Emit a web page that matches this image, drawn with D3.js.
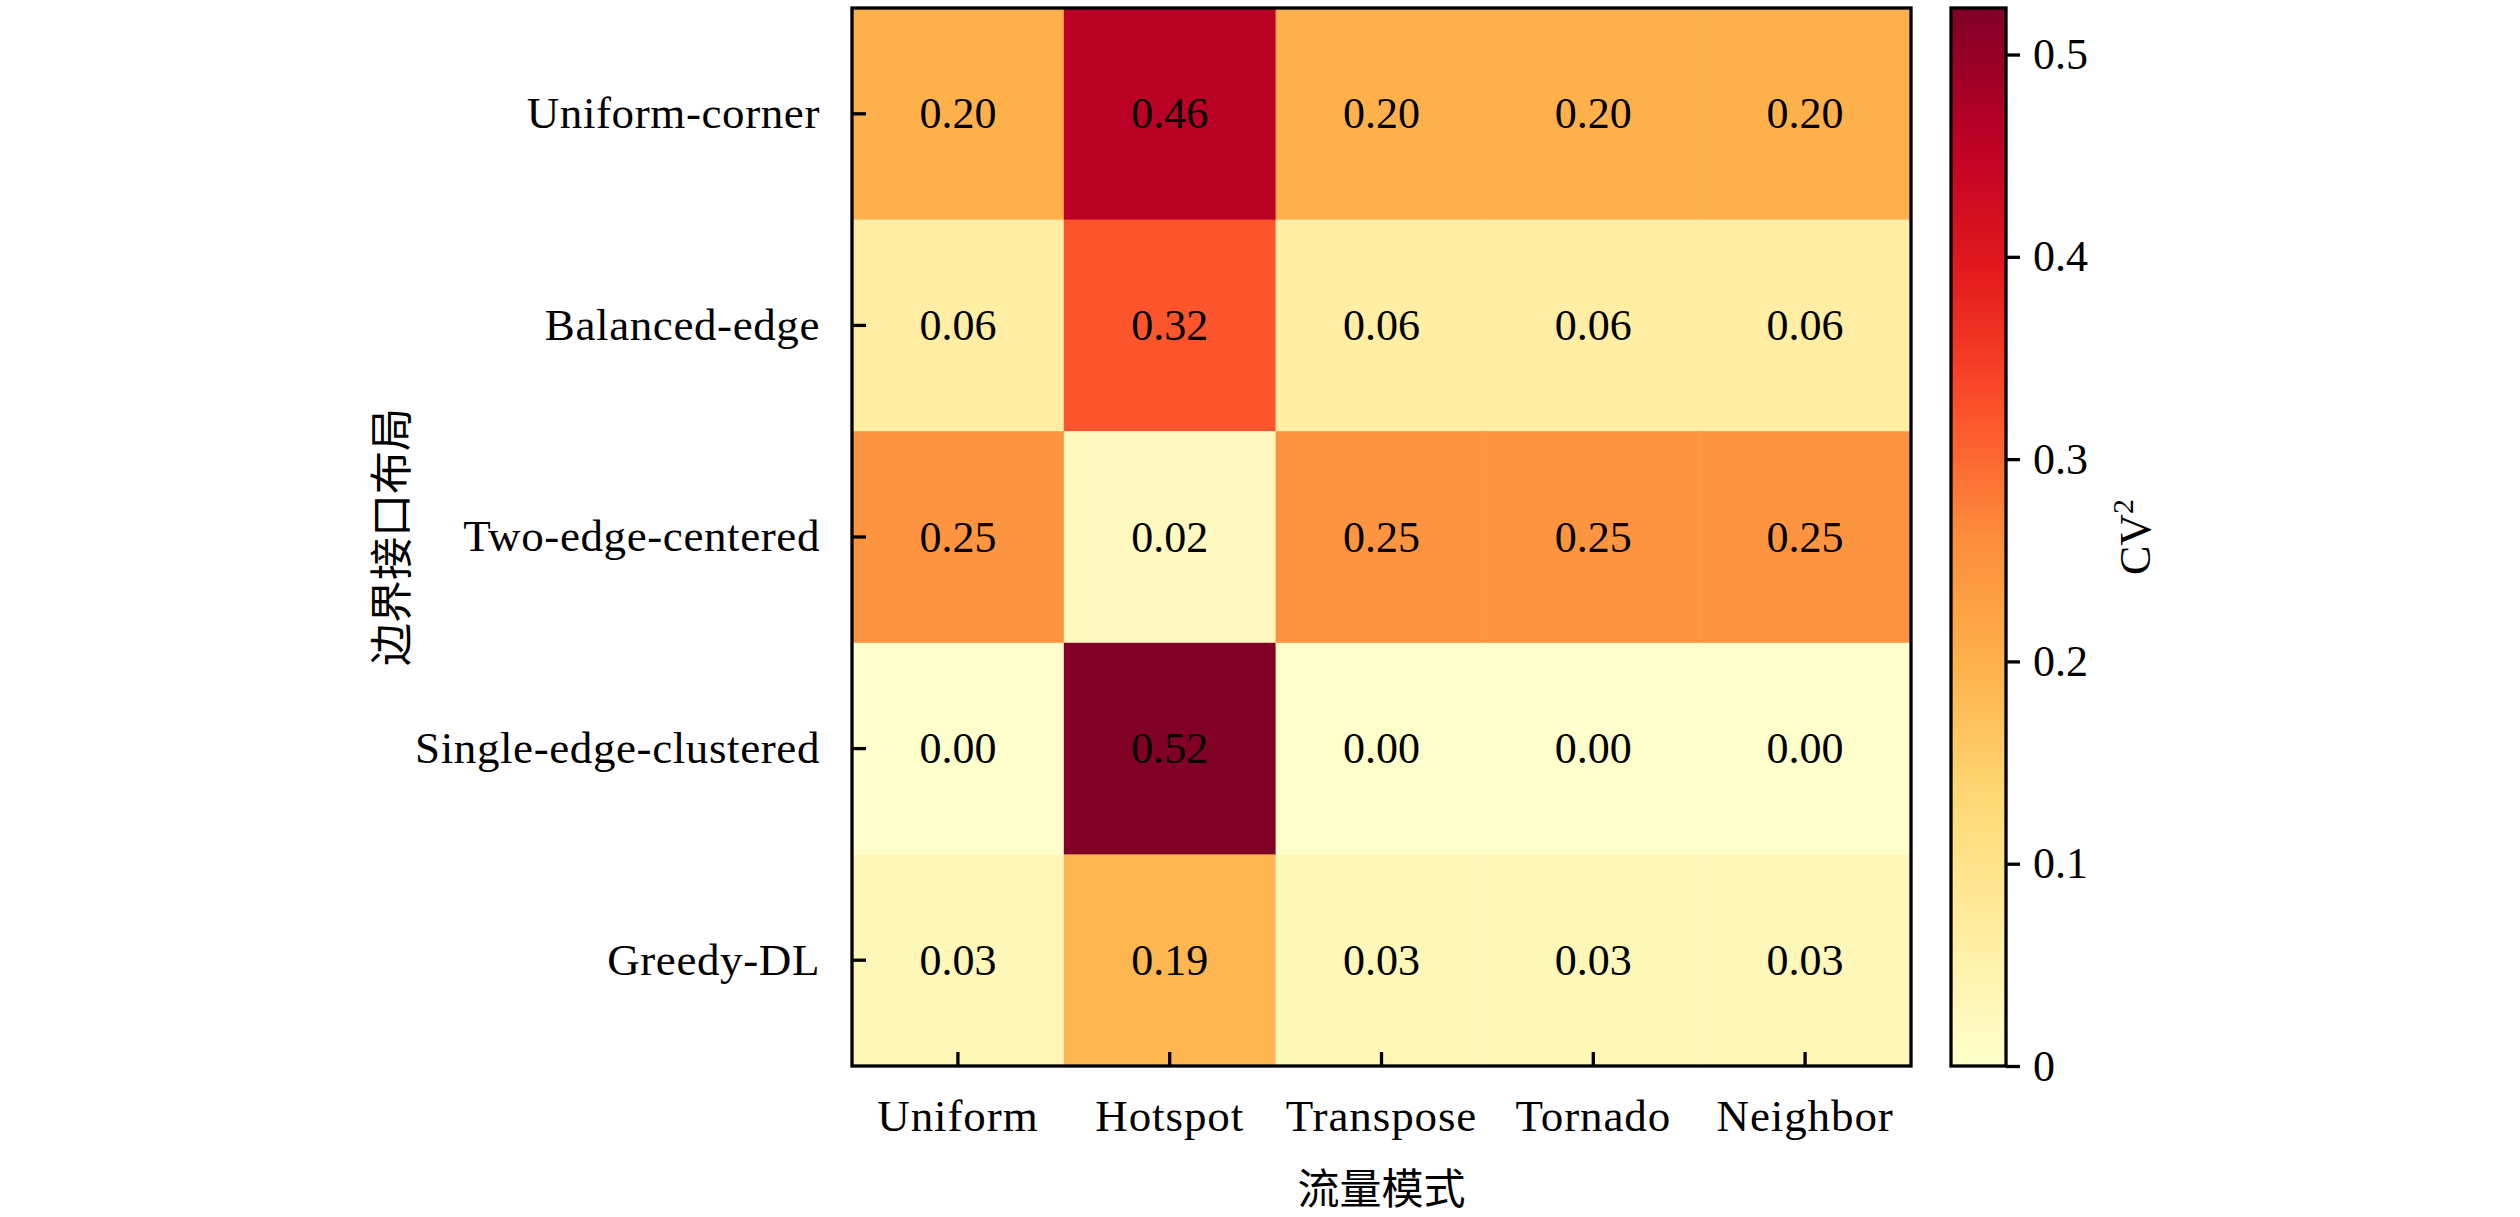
<!DOCTYPE html>
<html>
<head>
<meta charset="utf-8">
<script src="https://cdn.jsdelivr.net/npm/d3@7/dist/d3.min.js"></script>
<style>
  html, body { margin: 0; padding: 0; background: #fff; }
  svg { display: block; }
</style>
</head>
<body>
<svg id="chart" width="2520" height="1217"></svg>
<script>
// ---------- data ----------
const rowLabels = ["Uniform-corner", "Balanced-edge", "Two-edge-centered", "Single-edge-clustered", "Greedy-DL"];
const colLabels = ["Uniform", "Hotspot", "Transpose", "Tornado", "Neighbor"];
const rowUniformCorner      = [0.20, 0.46, 0.20, 0.20, 0.20];
const rowBalancedEdge       = [0.06, 0.32, 0.06, 0.06, 0.06];
const rowTwoEdgeCentered    = [0.25, 0.02, 0.25, 0.25, 0.25];
const rowSingleEdgeCluster  = [0.00, 0.523, 0.00, 0.00, 0.00];
const rowGreedyDL           = [0.03, 0.19, 0.03, 0.03, 0.03];
const colorbarTicks = [0, 0.1, 0.2, 0.3, 0.4, 0.5];
const xAxisTitle = "流量模式";
const yAxisTitle = "边界接口布局";
const cbarTitle = "CV";
const cbarTitleSup = "2";
const ylOrRd = ["#ffffcc","#ffeda0","#fed976","#feb24c","#fd8d3c","#fc4e2a","#e31a1c","#bd0026","#800026"];

const matrix = [rowUniformCorner, rowBalancedEdge, rowTwoEdgeCentered, rowSingleEdgeCluster, rowGreedyDL];
const cells = [];
matrix.forEach((row, i) => row.forEach((v, j) => cells.push({ r: rowLabels[i], c: colLabels[j], v })));

// ---------- layout ----------
const latin = "'Liberation Serif', 'Times New Roman', serif";
const cjk = "'Noto Sans CJK SC', 'Noto Sans CJK JP', sans-serif";
const fs = 44;
const plot = { x0: 852, x1: 1911, y0: 8, y1: 1066 };
const cbar = { x0: 1951, x1: 2006 };
const lw = 3.3;

const svg = d3.select("#chart");

const vmin = 0, vmax = d3.max(cells, d => d.v);
const color = d3.scaleLinear()
  .domain(ylOrRd.map((_, i) => vmin + (vmax - vmin) * i / (ylOrRd.length - 1)))
  .range(ylOrRd)
  .interpolate(d3.interpolateRgb)
  .clamp(true);

const x = d3.scaleBand().domain(colLabels).range([plot.x0, plot.x1]).padding(0);
const y = d3.scaleBand().domain(rowLabels).range([plot.y0, plot.y1]).padding(0);

// cells
svg.append("g").selectAll("rect").data(cells).join("rect")
  .attr("x", d => x(d.c))
  .attr("y", d => y(d.r))
  .attr("width", x.bandwidth() + 0.5)
  .attr("height", y.bandwidth() + 0.5)
  .attr("fill", d => color(d.v));

// annotations
svg.append("g").selectAll("text").data(cells).join("text")
  .attr("x", d => x(d.c) + x.bandwidth() / 2)
  .attr("y", d => y(d.r) + y.bandwidth() / 2)
  .attr("text-anchor", "middle")
  .attr("dominant-baseline", "central")
  .attr("font-family", latin)
  .attr("font-size", fs)
  .attr("fill", "#000")
  .text(d => d3.format(".2f")(d.v));

// axes
function styleAxis(g, size, spacing) {
  g.select(".domain").remove();
  g.selectAll(".tick line").attr("stroke", "#000").attr("stroke-width", lw);
  g.selectAll(".tick text").attr("font-family", latin).attr("font-size", size).attr("fill", "#000")
    .attr("letter-spacing", spacing);
}

svg.append("g")
  .attr("transform", `translate(${plot.x0},0)`)
  .call(d3.axisLeft(y).tickSize(-14).tickPadding(32))
  .call(g => styleAxis(g, 45, 0.6));

svg.append("g")
  .attr("transform", `translate(0,${plot.y1})`)
  .call(d3.axisBottom(x).tickSize(-14).tickPadding(33))
  .call(g => styleAxis(g, 45, 0.9));

// frame
svg.append("rect")
  .attr("x", plot.x0).attr("y", plot.y0)
  .attr("width", plot.x1 - plot.x0).attr("height", plot.y1 - plot.y0)
  .attr("fill", "none").attr("stroke", "#000").attr("stroke-width", lw);

// axis titles
svg.append("text")
  .attr("x", (plot.x0 + plot.x1) / 2).attr("y", 1185)
  .attr("text-anchor", "middle").attr("dominant-baseline", "central")
  .attr("font-family", cjk).attr("font-size", 42).attr("fill", "#000")
  .text(xAxisTitle);

svg.append("text")
  .attr("transform", `translate(388,${(plot.y0 + plot.y1) / 2}) rotate(-90)`)
  .attr("text-anchor", "middle").attr("dominant-baseline", "central")
  .attr("font-family", cjk).attr("font-size", 43).attr("fill", "#000")
  .text(yAxisTitle);

// colorbar
const cy = d3.scaleLinear().domain([vmin, vmax]).range([plot.y1, plot.y0]);
const defs = svg.append("defs");
const grad = defs.append("linearGradient").attr("id", "cbgrad")
  .attr("x1", 0).attr("y1", 1).attr("x2", 0).attr("y2", 0);
d3.range(0, 1.0001, 0.02).forEach(t => {
  grad.append("stop").attr("offset", t).attr("stop-color", color(vmin + t * (vmax - vmin)));
});
svg.append("rect")
  .attr("x", cbar.x0).attr("y", plot.y0)
  .attr("width", cbar.x1 - cbar.x0).attr("height", plot.y1 - plot.y0)
  .attr("fill", "url(#cbgrad)")
  .attr("stroke", "#000").attr("stroke-width", lw);

svg.append("g")
  .attr("transform", `translate(${cbar.x1},0)`)
  .call(d3.axisRight(cy).tickValues(colorbarTicks).tickSize(14).tickPadding(13)
    .tickFormat(d => d === 0 ? "0" : d3.format(".1f")(d)))
  .call(g => styleAxis(g, fs, 0));

const ct = svg.append("text")
  .attr("transform", `translate(2150,${(plot.y0 + plot.y1) / 2}) rotate(-90)`)
  .attr("text-anchor", "middle")
  .attr("font-family", latin).attr("font-size", fs).attr("fill", "#000");
ct.append("tspan").text(cbarTitle);
ct.append("tspan").attr("font-size", 30).attr("dy", -17).text(cbarTitleSup);
</script>
</body>
</html>
